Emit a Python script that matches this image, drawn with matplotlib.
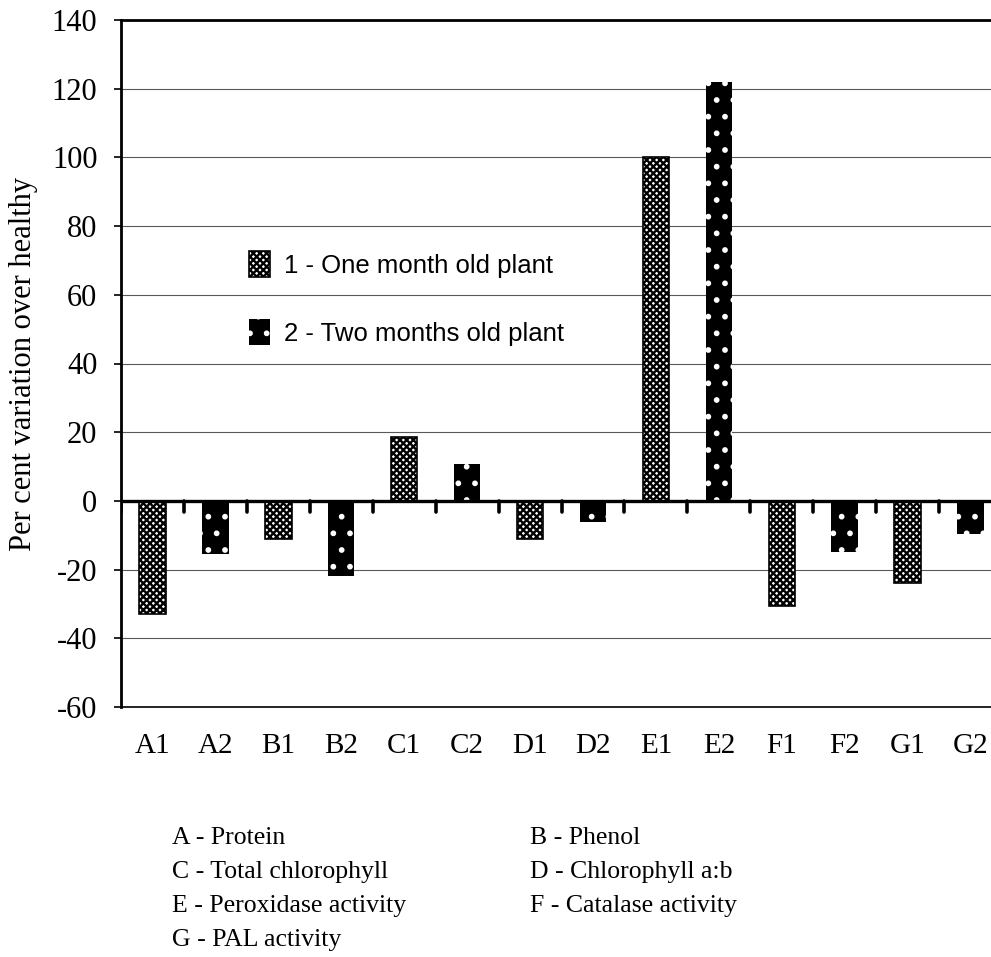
import numpy as np
import matplotlib.pyplot as plt

plt.rcParams['font.family'] = 'Liberation Serif'
plt.rcParams['hatch.linewidth'] = 1.7
plt.rcParams['axes.unicode_minus'] = False

labels = ['A1', 'A2', 'B1', 'B2', 'C1', 'C2', 'D1', 'D2', 'E1', 'E2', 'F1', 'F2', 'G1', 'G2']
one_month = [-33, -11, 18.5, -11, 100, -30.5, -24]
two_months = [-15.5, -22, 10.7, -6, 122, -15, -9.5]
key_left = ['A - Protein', 'C - Total chlorophyll', 'E - Peroxidase activity', 'G - PAL activity']
key_right = ['B - Phenol', 'D - Chlorophyll a:b', 'F - Catalase activity']

W, H = 991, 957
fig = plt.figure(figsize=(W / 100, H / 100), dpi=100)
ax = fig.add_axes([121 / W, (H - 707) / H, 881 / W, 687 / H])

x1 = np.arange(len(one_month)) * 2
x2 = x1 + 1
bw = 0.42

ax.set_axisbelow(True)
ax.yaxis.grid(True, color='0.35', lw=0.8)

b1 = ax.bar(x1, one_month, bw, facecolor='white', edgecolor='black', hatch='xxxxx', lw=1.2, zorder=3)
b2 = ax.bar(x2, two_months, bw, color='black', zorder=3)
b2d = ax.bar(x2, two_months, bw, facecolor='none', edgecolor='white', hatch='.', lw=0, zorder=4)

# zero line with category separator ticks
ax.axhline(0, color='black', lw=2.4, zorder=5)
edges = np.arange(len(labels) + 1) - 0.5
ax.vlines(edges, -3.2, 0, color='black', lw=2.6, zorder=5, capstyle='round')

ax.set_xlim(-0.5, len(labels) - 0.5)
ax.set_ylim(-60, 140)
ax.set_yticks(np.arange(-60, 141, 20))
ax.set_xticks(np.arange(len(labels)))
ax.set_xticklabels(labels)
ax.tick_params(axis='x', length=0, pad=19, labelsize=21)
ax.tick_params(axis='y', length=5, width=1.2, pad=12, labelsize=22)

for s in ['left', 'top']:
    ax.spines[s].set_linewidth(2)
ax.spines['bottom'].set_linewidth(1.2)
ax.spines['right'].set_visible(False)

ax.set_ylabel('Per cent variation over healthy', fontsize=22, labelpad=10)

ax.legend([b1, (b2, b2d)], ['1 - One month old plant', '2 - Two months old plant'],
          loc='upper left', bbox_to_anchor=(226 / W, 1 - 228 / H), bbox_transform=fig.transFigure,
          frameon=False, prop={'family': 'Liberation Sans', 'size': 18.5},
          handlelength=0.8, handleheight=1.2, labelspacing=1.6, handletextpad=0.55)

for i, t in enumerate(key_left):
    fig.text(172 / W, 1 - (838 + 34 * i) / H, t, fontsize=18.5, va='center')
for i, t in enumerate(key_right):
    fig.text(530 / W, 1 - (838 + 34 * i) / H, t, fontsize=18.5, va='center')

fig.savefig('out.png', dpi=100)
